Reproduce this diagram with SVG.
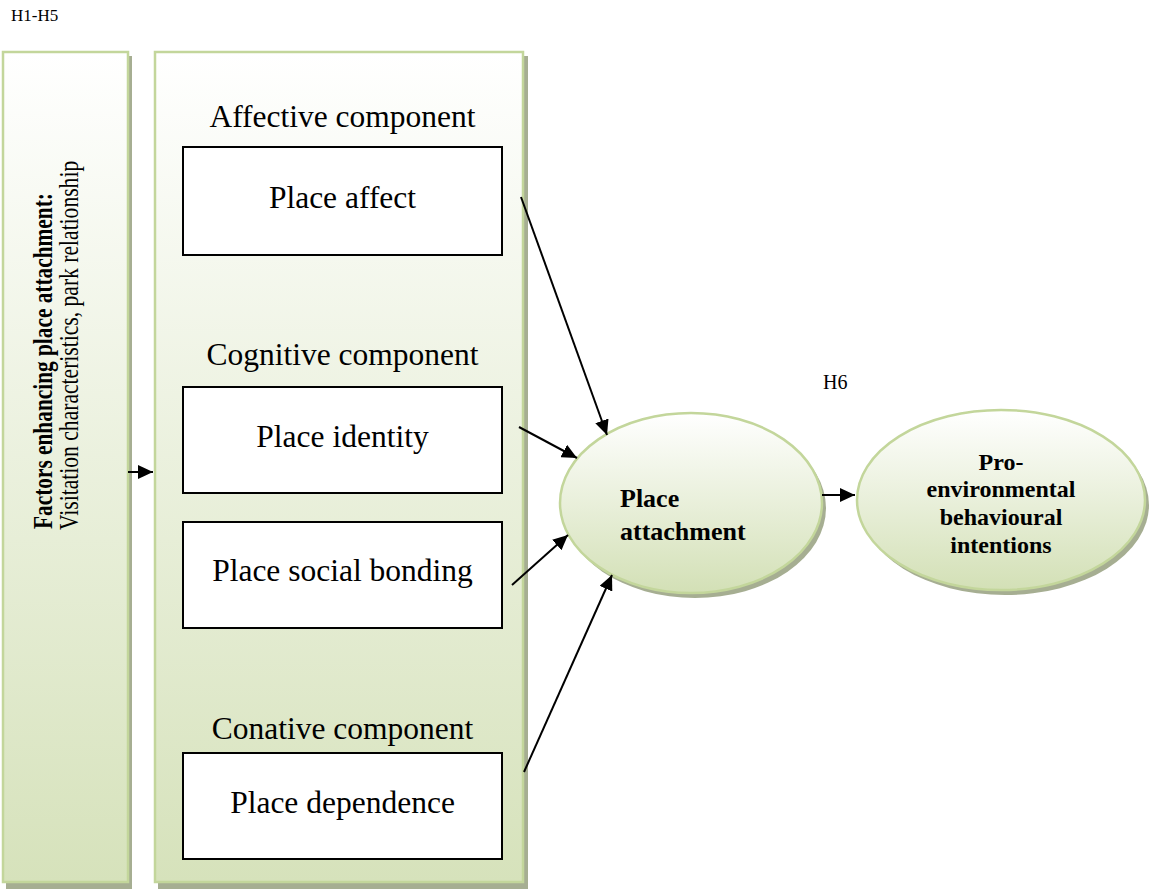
<svg xmlns="http://www.w3.org/2000/svg" width="1150" height="890" viewBox="0 0 1150 890">
<defs>
<linearGradient id="gPanel" x1="0" y1="0" x2="0" y2="1">
<stop offset="0" stop-color="#ffffff"/>
<stop offset="1" stop-color="#d6e2bb"/>
</linearGradient>
<linearGradient id="gEll" x1="0" y1="0" x2="0" y2="1">
<stop offset="0" stop-color="#ffffff"/>
<stop offset="1" stop-color="#d3e0b6"/>
</linearGradient>
<marker id="arr" markerUnits="userSpaceOnUse" markerWidth="17" markerHeight="14" refX="15" refY="7" orient="auto">
<path d="M0,0 L15,7 L0,14 Z" fill="#000"/>
</marker>
<style>
.panel{fill:url(#gPanel);stroke:#c3d69b;stroke-width:2.5}
.shadow{fill:#a6ae92}
.box{fill:#ffffff;stroke:#000;stroke-width:2}
.ell{fill:url(#gEll);stroke:#c3d69b;stroke-width:2.5}
.t{font-family:"Liberation Serif","Times New Roman",serif;fill:#000}
.lbl{font-size:31.5px;text-anchor:middle}
.b{font-weight:bold}
.conn{stroke:#000;stroke-width:2;fill:none;marker-end:url(#arr)}
</style>
</defs>
<rect width="1150" height="890" fill="#fff"/>
<text class="t" x="11" y="21" font-size="17">H1-H5</text>
<text class="t" x="823" y="389" font-size="20">H6</text>

<g id="factors">
<rect class="shadow" x="6" y="56" width="126" height="833"/>
<rect class="panel" x="3" y="52" width="125" height="830"/>
<text class="t b" font-size="27" transform="translate(52,529) rotate(-90) scale(0.79,1)">Factors enhancing place attachment:</text>
<text class="t" font-size="27" transform="translate(78,530) rotate(-90) scale(0.8,1)">Visitation characteristics, park relationship</text>
</g>

<g id="components">
<rect class="shadow" x="158" y="56" width="370" height="833"/>
<rect class="panel" x="155" y="52" width="368" height="830"/>
<text class="t lbl" x="342.5" y="127">Affective component</text>
<text class="t lbl" x="342.5" y="365">Cognitive component</text>
<text class="t lbl" x="342.5" y="739">Conative component</text>
</g>

<g id="place-affect">
<rect class="box" x="183" y="147" width="319" height="108"/>
<text class="t lbl" x="342.5" y="208">Place affect</text>
</g>
<g id="place-identity">
<rect class="box" x="183" y="387" width="319" height="106"/>
<text class="t lbl" x="342.5" y="447">Place identity</text>
</g>
<g id="place-social-bonding">
<rect class="box" x="183" y="522" width="319" height="106"/>
<text class="t lbl" x="342.5" y="581">Place social bonding</text>
</g>
<g id="place-dependence">
<rect class="box" x="183" y="753" width="319" height="106"/>
<text class="t lbl" x="342.5" y="813">Place dependence</text>
</g>

<g id="place-attachment">
<ellipse class="shadow" cx="695" cy="508" rx="131" ry="90"/>
<ellipse class="ell" cx="691" cy="503" rx="131" ry="90"/>
<text class="t b" font-size="26" x="620" y="507">Place</text>
<text class="t b" font-size="26" x="620" y="540">attachment</text>
</g>

<g id="pro-environmental">
<ellipse class="shadow" cx="1005" cy="505" rx="144" ry="90"/>
<ellipse class="ell" cx="1001" cy="500" rx="144" ry="90"/>
<text class="t b" font-size="24" text-anchor="middle" x="1001" y="470">Pro-</text>
<text class="t b" font-size="24" text-anchor="middle" x="1001" y="497">environmental</text>
<text class="t b" font-size="24" text-anchor="middle" x="1001" y="525">behavioural</text>
<text class="t b" font-size="24" text-anchor="middle" x="1001" y="553">intentions</text>
</g>

<g id="connectors">
<line class="conn" x1="128" y1="472" x2="153" y2="472"/>
<line class="conn" x1="521" y1="197" x2="607" y2="435"/>
<line class="conn" x1="519" y1="427" x2="577" y2="458"/>
<line class="conn" x1="512" y1="585" x2="568" y2="535"/>
<line class="conn" x1="524" y1="772" x2="612" y2="575"/>
<line class="conn" x1="822" y1="495" x2="855" y2="495"/>
</g>
</svg>
